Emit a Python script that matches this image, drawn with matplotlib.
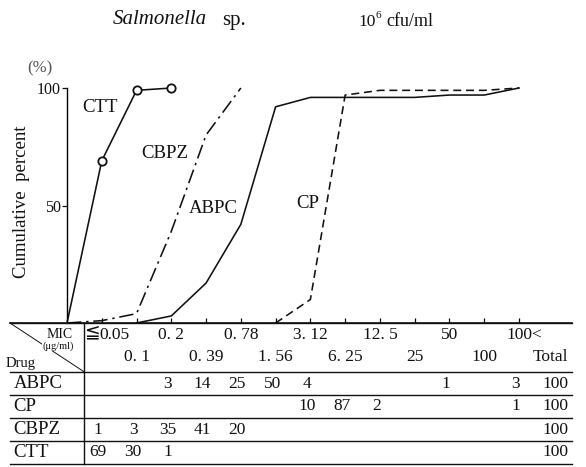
import numpy as np
import matplotlib
matplotlib.use("Agg")
import matplotlib.pyplot as plt

# MIC categories (µg/ml) and the number of strains of each drug at each MIC
mic_labels = ["≦0.05", "0. 1", "0. 2", "0. 39", "0. 78", "1. 56", "3. 12",
              "6. 25", "12. 5", "25", "50", "100", "100<"]
drugs = ["ABPC", "CP", "CBPZ", "CTT"]
abpc = [0, 0, 3, 14, 25, 50, 4, 0, 0, 0, 1, 0, 3]
cp = [0, 0, 0, 0, 0, 0, 10, 87, 2, 0, 0, 0, 1]
cbpz = [1, 3, 35, 41, 20, 0, 0, 0, 0, 0, 0, 0, 0]
ctt = [69, 30, 1, 0, 0, 0, 0, 0, 0, 0, 0, 0, 0]
totals = [100, 100, 100, 100]

SERIF = ["Liberation Serif", "DejaVu Sans", "Noto Sans CJK JP"]
plt.rcParams["font.family"] = SERIF
INK = "#111111"

W, H = 586, 467
fig = plt.figure(figsize=(W / 100, H / 100), dpi=100)

# horizontal scale shared by the chart and the table below it
x_left_px, x_right_px = 10, 572
px_per_cat = 34.77
x0 = -1 - (67 - x_left_px) / px_per_cat
x1 = x0 + (x_right_px - x_left_px) / px_per_cat

chart_bottom, chart_top = 144, 407
ax = fig.add_axes([x_left_px / W, chart_bottom / H,
                   (x_right_px - x_left_px) / W, (chart_top - chart_bottom) / H])
ax.set_xlim(x0, x1)
ax.set_ylim(0, (chart_top - chart_bottom) / 2.35)
for s in ("top", "right"):
    ax.spines[s].set_visible(False)
ax.spines["left"].set_position(("data", -1))
ax.spines["left"].set_bounds(0, 100)
ax.spines["left"].set_linewidth(1.0)
ax.spines["bottom"].set_linewidth(1.1)
ax.set_xticks(np.arange(len(mic_labels)))
ax.set_xticklabels([])
ax.tick_params(axis="x", direction="in", length=3.5, width=0.9)
ax.set_yticks([50, 100])
ax.set_yticklabels(["50", "100"])
ax.tick_params(axis="y", direction="out", length=3.5, width=0.9, pad=1,
               labelsize=11.5, colors=INK)


def cum_curve(counts):
    counts = np.asarray(counts)
    c = np.cumsum(counts)
    first = int(np.argmax(counts > 0))
    end = int(np.argmax(c >= 100))
    xs = np.arange(first - 1, end + 1)
    ys = np.concatenate([[0], c[first:end + 1]])
    return xs, ys


lw = 1.15
xs, ys = cum_curve(ctt)
ax.plot(xs, ys, color=INK, lw=lw, clip_on=False)
ax.plot(xs[1:], ys[1:], ls="none", marker="o", ms=6, mfc="white",
        mec=INK, mew=1.3, clip_on=False)
xs, ys = cum_curve(cbpz)
ax.plot(xs, ys, color=INK, lw=lw, ls=(0, (9, 3, 1.5, 3)), clip_on=False)
xs, ys = cum_curve(abpc)
ax.plot(xs, ys, color=INK, lw=lw, clip_on=False)
xs, ys = cum_curve(cp)
ax.plot(xs, ys, color=INK, lw=lw, ls=(0, (5, 3)), clip_on=False)

lab_kw = dict(fontsize=13.5, color=INK, ha="center", va="center")
ax.text(-0.05, 91.5, "CTT", **lab_kw)
ax.text(1.82, 72.3, "CBPZ", **lab_kw)
ax.text(3.20, 48.9, "ABPC", **lab_kw)
ax.text(5.93, 51.0, "CP", **lab_kw)

# titles and axis captions
fig.text(113 / W, 1 - 20 / H, "Salmonella", fontsize=15, style="italic",
         ha="left", va="center", color=INK)
fig.text(222 / W, 1 - 21 / H, "sp.", fontsize=15, ha="left", va="center", color=INK)
fig.text(358 / W, 1 - 22 / H, "10", fontsize=12.5, ha="left", va="center", color=INK)
fig.text(376 / W, 1 - 16 / H, "6", fontsize=8, ha="left", va="center", color=INK)
fig.text(386 / W, 1 - 22 / H, "cfu/ml", fontsize=13, ha="left", va="center", color=INK)
fig.text(40 / W, 1 - 68 / H, "(%)", fontsize=12, ha="center", va="center", color="#555555")
fig.text(22 / W, 1 - 202 / H, "Cumulative  percent", fontsize=13.5, rotation=90,
         ha="center", va="center", color=INK)

# table beneath the chart, in pixel rows measured from its top line
tb = fig.add_axes([x_left_px / W, 3 / H, (x_right_px - x_left_px) / W, 141 / H])
tb.set_xlim(x0, x1)
tb.set_ylim(141, 0)
tb.axis("off")
row_lines = [0, 49, 72, 95, 118, 141]
for yl in row_lines:
    tb.plot([x0, x1], [yl, yl], color=INK, lw=1.0, clip_on=False)
tb.plot([-0.5, -0.5], [0, 141], color=INK, lw=1.0, clip_on=False)
tb.plot([x0, -0.5], [0, 49], color=INK, lw=0.7, clip_on=False)

tfs = 12.5
tb.text(-1.2, 12, "MIC", fontsize=10, ha="center", va="center", color=INK)
tb.text(-1.25, 23, "(μg/ml)", fontsize=7.5, ha="center", va="center", color=INK,
        bbox=dict(facecolor="white", edgecolor="none", pad=0.3))
tb.text(x0 - 0.12, 41, "Drug", fontsize=10.5, ha="left", va="center", color=INK)

for i, lab in enumerate(mic_labels):
    y = 12 if i % 2 == 0 else 34
    if lab.startswith("≦"):
        tb.text(i - 0.27, y - 3.5, lab[0], fontsize=13.5, ha="center", va="center",
                color=INK, family="DejaVu Sans")
        tb.text(i - 0.06, y, lab[1:], fontsize=tfs, ha="left", va="center", color=INK)
        continue
    tb.text(i + (0.15 if i == 12 else 0), y, lab, fontsize=tfs, ha="center",
            va="center", color=INK)
x_total = x0 + (568 - x_left_px) / px_per_cat
tb.text(x_total, 34, "Total", fontsize=tfs, ha="right", va="center", color=INK)

row_y = [60.5, 83.5, 106.5, 129.5]
for name, counts, tot, y in zip(drugs, [abpc, cp, cbpz, ctt], totals, row_y):
    tb.text(x0 + 0.1, y, name, fontsize=13.5, ha="left", va="center", color=INK)
    for i, v in enumerate(counts):
        if v:
            tb.text(i - 0.1, y, str(v), fontsize=tfs, ha="center", va="center", color=INK)
    tb.text(x_total, y, str(tot), fontsize=tfs, ha="right", va="center", color=INK)

fig.savefig("out.png", dpi=100, facecolor="white")
